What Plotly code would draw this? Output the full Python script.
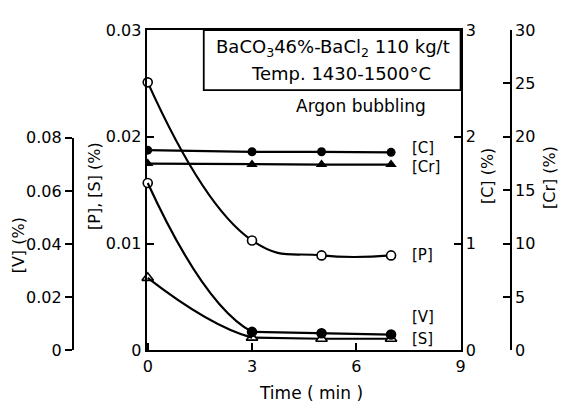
import plotly.graph_objects as go

# Time after start of argon bubbling (min)
time_min = [0, 3, 5, 7]

# Hot-metal composition (%)
p_pct = [0.0251, 0.0103, 0.0089, 0.0089]
s_pct = [0.0068, 0.0012, 0.0011, 0.0011]
v_pct = [0.063, 0.0070, 0.0065, 0.0060]
c_pct = [1.875, 1.86, 1.86, 1.855]
cr_pct = [17.5, 17.4, 17.4, 17.4]

# Tick values / labels
x_ticks = [0, 3, 6, 9]
ps_ticks = [0, 0.01, 0.02, 0.03]
ps_labels = ["0", "0.01", "0.02", "0.03"]
v_ticks = [0, 0.02, 0.04, 0.06, 0.08]
v_labels = ["0", "0.02", "0.04", "0.06", "0.08"]
c_ticks = [0, 1, 2, 3]
cr_ticks = [0, 5, 10, 15, 20, 25, 30]

W, H = 563, 412
FONT = "DejaVu Sans"
INK = "black"


def fx(px):
    return px / W


def fy(py):
    return 1 - py / H


# Pixel frame of the main plot
LEFT, RIGHT, TOP, BOTTOM = 145, 464, 22, 358
X_RANGE = [-0.03, 9]
PX_PER_MIN = (RIGHT - LEFT) / (X_RANGE[1] - X_RANGE[0])
# Secondary time axis with the same scale that stops at the first
# measurement after bubbling starts; the fast initial drop of [V] and [S]
# is drawn on it so the smooth curve ends there and the rest is straight.
T_KNEE = time_min[1]
KNEE_PX = LEFT + (T_KNEE - X_RANGE[0]) * PX_PER_MIN

fig = go.Figure()

LINE_W = 2.2
MS = 9
line_style = dict(color=INK, width=LINE_W)

# [C] - filled circles on the [C] axis
fig.add_trace(go.Scatter(
    x=time_min, y=c_pct, yaxis="y3", mode="lines+markers", line=line_style,
    marker=dict(symbol="circle", size=MS, color=INK),
))
# [Cr] - filled triangles on the [Cr] axis
fig.add_trace(go.Scatter(
    x=time_min, y=cr_pct, yaxis="y4", mode="lines+markers", line=line_style,
    marker=dict(symbol="triangle-up", size=MS + 1, color=INK),
))

# [V]: smooth initial drop, then straight segments, then markers
fig.add_trace(go.Scatter(
    x=time_min, y=v_pct, xaxis="x2", yaxis="y2", mode="lines",
    line=dict(color=INK, width=LINE_W, shape="spline", smoothing=1.3),
))
fig.add_trace(go.Scatter(
    x=time_min[1:], y=v_pct[1:], yaxis="y2", mode="lines", line=line_style,
))
fig.add_trace(go.Scatter(
    x=time_min, y=v_pct, yaxis="y2", mode="markers", cliponaxis=False,
    marker=dict(symbol="circle", size=MS, color=["white", INK, INK, INK],
                line=dict(color=INK, width=1.6)),
))

# [P] - open circles on the [P],[S] axis
fig.add_trace(go.Scatter(
    x=time_min, y=p_pct, mode="lines+markers", cliponaxis=False,
    line=dict(color=INK, width=LINE_W, shape="spline", smoothing=1.3),
    marker=dict(symbol="circle", size=MS, color="white",
                line=dict(color=INK, width=1.6)),
))

# [S]: smooth initial drop, then straight segments, then open triangles
fig.add_trace(go.Scatter(
    x=time_min, y=s_pct, xaxis="x2", yaxis="y", mode="lines",
    line=dict(color=INK, width=LINE_W, shape="spline", smoothing=1.3),
))
fig.add_trace(go.Scatter(
    x=time_min[1:], y=s_pct[1:], mode="lines", line=line_style,
))
fig.add_trace(go.Scatter(
    x=time_min, y=s_pct, mode="markers", cliponaxis=False,
    marker=dict(symbol="triangle-up", size=MS + 1, color="white",
                line=dict(color=INK, width=1.6)),
))

tick_font = dict(family=FONT, size=16, color=INK)
axis_common = dict(
    showline=True, linecolor=INK, linewidth=2, showgrid=False, zeroline=False,
    tickcolor=INK, tickwidth=2, ticklen=7, tickfont=tick_font,
)

x_dom = [fx(LEFT), fx(RIGHT)]
y_dom = [fy(BOTTOM), fy(TOP)]

fig.update_layout(
    width=W, height=H,
    margin=dict(l=0, r=0, t=0, b=0),
    paper_bgcolor="white", plot_bgcolor="rgba(0,0,0,0)",
    showlegend=False,
    font=dict(family=FONT, color=INK),
    xaxis=dict(
        domain=x_dom, range=X_RANGE, tickvals=x_ticks, ticks="inside",
        mirror=True, anchor="y", **axis_common,
    ),
    xaxis2=dict(
        domain=[fx(LEFT), fx(KNEE_PX)], range=[X_RANGE[0], T_KNEE],
        visible=False, anchor="y", showgrid=False, zeroline=False,
    ),
    yaxis=dict(
        domain=y_dom, range=[0, 0.03], tickvals=ps_ticks, ticktext=ps_labels,
        ticks="inside", side="left", anchor="x", **axis_common,
    ),
    yaxis2=dict(
        domain=[fy(BOTTOM), fy(135)], range=[0, 0.08], tickvals=v_ticks,
        ticktext=v_labels, ticks="outside", side="left", anchor="free",
        position=fx(70), **axis_common,
    ),
    yaxis3=dict(
        range=[0, 3], tickvals=c_ticks, ticks="inside", side="right",
        overlaying="y", anchor="x", **axis_common,
    ),
    yaxis4=dict(
        range=[0, 30], tickvals=cr_ticks, ticks="inside", side="right",
        overlaying="y", anchor="free", position=fx(515), **axis_common,
    ),
)

# Condition box in the upper right of the frame
fig.add_shape(type="rect", xref="paper", yref="paper",
              x0=fx(203), x1=fx(RIGHT), y0=fy(85), y1=fy(TOP),
              line=dict(color=INK, width=1.8), fillcolor="rgba(0,0,0,0)")

notes = [
    ("BaCO<sub>3</sub>46%-BaCl<sub>2</sub> 110 kg/t", 334, 41, 18, "center", 0),
    ("Temp. 1430-1500°C", 342, 68, 18, "center", 0),
    ("Argon bubbling", 363, 102, 17, "center", 0),
    ("[C]", 413, 146, 15, "left", 0),
    ("[Cr]", 413, 166, 15, "left", 0),
    ("[P]", 413, 258, 15, "left", 0),
    ("[V]", 413, 323, 15, "left", 0),
    ("[S]", 413, 346, 15, "left", 0),
    ("Time ( min )", 312, 403, 17, "center", 0),
    ("[V] (%)", 15, 248, 16, "center", -90),
    ("[P], [S] (%)", 92, 186, 16, "center", -90),
    ("[C] (%)", 492, 175, 16, "center", -90),
    ("[Cr] (%)", 555, 177, 16, "center", -90),
]
for text, x, y, size, anchor, angle in notes:
    fig.add_annotation(
        text=text, xref="paper", yref="paper", x=fx(x), y=fy(y),
        xanchor=anchor, yanchor="middle", showarrow=False, textangle=angle,
        font=dict(family=FONT, size=size, color=INK),
    )

fig.write_html("out.html")
